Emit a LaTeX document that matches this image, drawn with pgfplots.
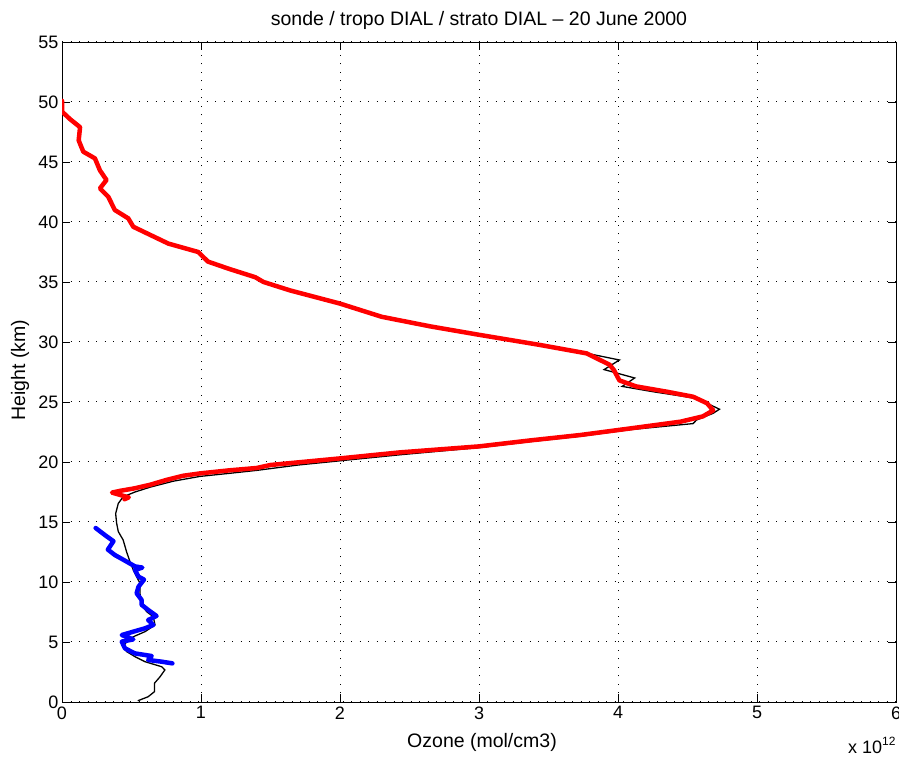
\documentclass[border=0pt]{standalone}
\usepackage{pgfplots}
\pgfplotsset{compat=1.18}
\usepackage{fontspec}
\setmainfont{Liberation Sans}
\begin{document}
\begin{tikzpicture}[x=1pt,y=1pt]
\useasboundingbox (0,0) rectangle (899,757);
\begin{axis}[
  at={(62pt,55pt)}, anchor=south west,
  scale only axis, width=834pt, height=660pt,
  xmin=0, xmax=6, ymin=0, ymax=55,
  xtick={0,1,...,6}, ytick={0,5,...,55},
  tick pos=both, tick align=inside,
  major tick length=8pt,
  tick style={black, line width=0.9pt},
  axis line style={black, line width=0.9pt},
  grid=major,
  major grid style={black, line width=1pt, dash pattern=on 1.2pt off 7.3pt},
  /pgf/number format/assume math mode=true,
  tick label style={font=\fontsize{18}{20}\selectfont},
  xticklabel style={yshift=-1pt},
  clip=true,
]
% ozonesonde
\addplot[black, line width=1.3pt] coordinates {
(0.545,0.1) (0.62,0.44) (0.665,0.86) (0.665,1.56) (0.705,2.1) (0.74,2.67)
(0.717,2.94) (0.597,3.36) (0.525,3.78) (0.465,4.2) (0.44,4.6) (0.477,5.22)
(0.525,5.5) (0.597,5.86) (0.669,6.42) (0.657,7.1) (0.609,7.53) (0.573,8.08)
(0.561,9.06) (0.561,9.9) (0.537,10.44) (0.513,11.0) (0.489,11.7) (0.465,12.5)
(0.44,13.5) (0.405,14.2) (0.393,14.9) (0.386,15.7) (0.405,16.55) (0.44,17.1)
(0.525,17.5) (0.633,17.9) (0.8,18.4) (0.993,18.8) (1.2,19.05) (1.4,19.3)
(1.7,19.75) (2.0,20.1) (2.43,20.6) (3.0,21.2) (3.37,21.7) (3.73,22.15)
(4.09,22.7) (4.54,23.2) (4.565,23.5) (4.685,24.06) (4.73,24.4) (4.565,25.3)
(4.25,25.86) (4.03,26.3) (4.12,27.0) (3.9,27.7) (4.01,28.5) (3.775,29.06)
(3.44,29.75) (3.0,30.6)
};
% tropospheric DIAL
\addplot[blue, line width=4.5pt, line join=round, line cap=round] coordinates {
(0.242,14.5) (0.31,13.9) (0.37,13.4) (0.33,12.7) (0.38,12.25) (0.465,11.7)
(0.525,11.3) (0.578,11.2) (0.525,11.0) (0.55,10.45) (0.59,10.2) (0.55,9.6)
(0.537,9.06) (0.573,8.5) (0.573,8.1) (0.62,7.67) (0.68,7.17) (0.62,6.83)
(0.657,6.42) (0.597,6.14) (0.513,5.86) (0.43,5.58) (0.513,5.22) (0.43,5.03)
(0.453,4.47) (0.525,4.05) (0.645,3.83) (0.62,3.5) (0.717,3.36) (0.794,3.22)
};
% stratospheric DIAL
\addplot[red, line width=4.5pt, line join=round, line cap=round] coordinates {
(0.45,16.9) (0.48,17.05) (0.42,17.25) (0.36,17.45) (0.42,17.6) (0.52,17.8)
(0.633,18.1) (0.75,18.5) (0.87,18.85) (0.993,19.05) (1.2,19.3) (1.4,19.5) (1.5,19.75)
(2.0,20.3) (2.43,20.8) (3.0,21.3) (3.37,21.8) (3.73,22.25) (4.09,22.8)
(4.45,23.36) (4.61,23.8) (4.685,24.3) (4.64,24.9) (4.54,25.44) (4.35,25.86)
(4.13,26.3) (4.01,26.8) (3.97,27.67) (3.94,28.1) (3.775,29.05) (3.44,29.75)
(3.0,30.6) (2.65,31.3) (2.3,32.1) (2.15,32.65) (2.0,33.2) (1.64,34.3)
(1.45,35.0) (1.39,35.4) (1.2,36.1) (1.05,36.7) (0.98,37.5) (0.765,38.2)
(0.513,39.6) (0.477,40.3) (0.38,41.0) (0.333,42.1) (0.273,42.8) (0.32,43.5)
(0.273,44.3) (0.237,45.3) (0.153,45.86) (0.12,46.8) (0.13,47.9) (0.06,48.55)
(0.0,49.2) (0.0,50.1)
};
\end{axis}
\node[font=\fontsize{19.5}{22}\selectfont] at (479,737) {sonde / tropo DIAL / strato DIAL -- 20 June 2000};
\node[font=\fontsize{19.5}{22}\selectfont] at (482,15) {Ozone (mol/cm3)};
\node[font=\fontsize{19.5}{22}\selectfont, rotate=90] at (20,387) {Height (km)};
\node[font=\fontsize{18}{20}\selectfont, anchor=base west, inner sep=0pt] at (848,3) {x 10\raisebox{8pt}{\fontsize{12}{14}\selectfont 12}};
\end{tikzpicture}
\end{document}
